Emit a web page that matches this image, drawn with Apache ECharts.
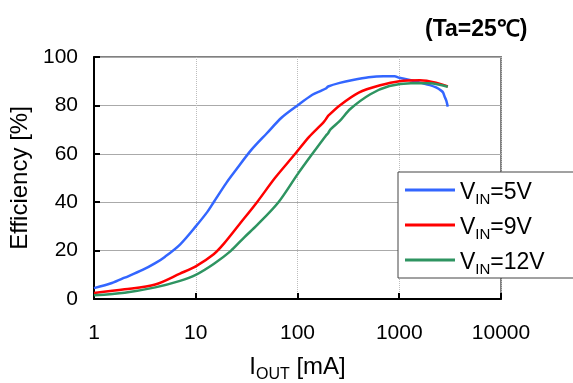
<!DOCTYPE html>
<html>
<head>
<meta charset="utf-8">
<script src="https://cdn.jsdelivr.net/npm/echarts@6/dist/echarts.min.js"></script>
<style>
  html, body { margin: 0; padding: 0; background: #fff; }
  #chart { width: 573px; height: 383px; }
</style>
</head>
<body>
<div id="chart"></div>
<script>
var dom = document.getElementById('chart');
var chart = echarts.init(dom, null, { renderer: 'canvas' });

// V_IN = 5V
const current5 = [1, 1.5, 2, 3, 4, 5, 7, 10, 13, 15, 20, 25, 35, 50, 70, 100, 140, 170, 190, 200, 260, 350, 500, 700, 900, 1000, 1300, 1600, 2000, 2300, 2600, 2700, 2800, 2900, 3000];
const eff5 = [4.5, 6.6, 8.8, 12, 14.8, 17.5, 22.5, 30, 36, 40, 48, 53.5, 61.5, 68.5, 75, 80, 84.4, 86, 87, 87.8, 89.3, 90.5, 91.6, 92, 92, 91.4, 90.4, 89.4, 88.4, 87.4, 86, 85.3, 83.5, 82, 79.5];

// V_IN = 9V
const current9 = [1, 2, 4, 7, 10, 15, 19, 27, 40, 60, 95, 130, 180, 195, 200, 260, 400, 650, 1000, 1600, 2300, 3000];
const eff9 = [2.5, 4, 6, 10.5, 13.5, 18.5, 23, 31, 40, 50, 60, 67, 73, 75, 75.7, 80, 85.3, 88.3, 90, 90.4, 89.4, 87.8];

// V_IN = 12V
const current12 = [1, 2, 4, 7, 10, 15, 22, 30, 40, 65, 100, 140, 190, 200, 210, 262, 330, 520, 800, 1300, 2000, 3000];
const eff12 = [1.5, 2.6, 4.8, 7.5, 10, 14.5, 19.8, 25.5, 30.5, 40, 51.5, 60, 67.5, 68.5, 70, 73.7, 78.5, 84.6, 88, 89.2, 89.2, 87.7];

const seriesNames = ['5V', '9V', '12V'];
const seriesColors = ['#3366ff', '#ff0000', '#2e9461'];
const yTicks = [0, 20, 40, 60, 80, 100];

function pairs(xs, ys) {
  return xs.map(function (x, i) { return [x, ys[i]]; });
}

const allData = [pairs(current5, eff5), pairs(current9, eff9), pairs(current12, eff12)];

const font = 'Arial, "Liberation Sans", sans-serif';

var option = {
  animation: false,
  title: {
    text: '(Ta=25℃)',
    left: 420,
    top: 13,
    textStyle: { fontFamily: font, fontSize: 23, fontWeight: 'bold', color: '#000' }
  },
  grid: {
    left: 94, right: 72, top: 57, bottom: 84,
    containLabel: false,
    outerBoundsMode: 'none',
    show: true,
    borderColor: '#808080',
    borderWidth: 2
  },
  legend: {
    orient: 'vertical',
    left: 398,
    top: 172,
    padding: [1, 30, 1, 7],
    itemGap: 1,
    itemWidth: 50,
    itemHeight: 3,
    icon: 'rect',
    backgroundColor: '#fff',
    borderColor: '#444',
    borderWidth: 1,
    borderRadius: 0,
    data: seriesNames.map(function (n) { return 'VIN=' + n; }),
    formatter: function (name) {
      return '{a|V}{b|IN}{a|' + name.slice(3) + '}';
    },
    textStyle: {
      fontFamily: font,
      color: '#000',
      rich: {
        a: { fontFamily: font, fontSize: 23, lineHeight: 26, color: '#000', padding: [6, 0, 0, 0] },
        b: { fontFamily: font, fontSize: 15, lineHeight: 16, color: '#000', padding: [19, 0, 0, 0] }
      }
    }
  },
  xAxis: {
    type: 'log',
    logBase: 10,
    min: 1,
    max: 10000,
    name: '{a|I}{b|OUT}{a| [mA]}',
    nameLocation: 'middle',
    nameGap: 54,
    nameTextStyle: {
      rich: {
        a: { fontFamily: font, fontSize: 24, lineHeight: 28, color: '#000' },
        b: { fontFamily: font, fontSize: 16, lineHeight: 18, color: '#000', padding: [15, 0, 0, 0] }
      }
    },
    axisLine: { show: true, onZero: false, lineStyle: { color: '#000', width: 2 } },
    axisTick: { show: true, inside: true, length: 6, lineStyle: { color: '#000', width: 2 } },
    minorTick: { show: false },
    axisLabel: {
      fontFamily: font, fontSize: 21, color: '#000', margin: 24,
      formatter: function (v) { return String(v); }
    },
    splitLine: { show: true, lineStyle: { color: '#bdbdbd', type: 'dotted', width: 1 } }
  },
  yAxis: {
    type: 'value',
    min: yTicks[0],
    max: yTicks[yTicks.length - 1],
    interval: 20,
    name: 'Efficiency [%]',
    nameLocation: 'middle',
    nameGap: 50,
    nameTextStyle: { fontFamily: font, fontSize: 24, color: '#000' },
    axisLine: { show: true, lineStyle: { color: '#000', width: 2 } },
    axisTick: { show: true, inside: true, length: 6, lineStyle: { color: '#000', width: 2 } },
    axisLabel: { fontFamily: font, fontSize: 21, color: '#000', margin: 16 },
    splitLine: { show: true, lineStyle: { color: '#aaaaaa', width: 1 } }
  },
  series: allData.map(function (d, i) {
    return {
      name: 'VIN=' + seriesNames[i],
      type: 'line',
      data: d,
      showSymbol: false,
      symbol: 'none',
      smooth: 0.3,
      color: seriesColors[i],
      lineStyle: { color: seriesColors[i], width: 2.5 }
    };
  })
};

chart.setOption(option);
window.addEventListener('resize', chart.resize);
</script>
</body>
</html>
